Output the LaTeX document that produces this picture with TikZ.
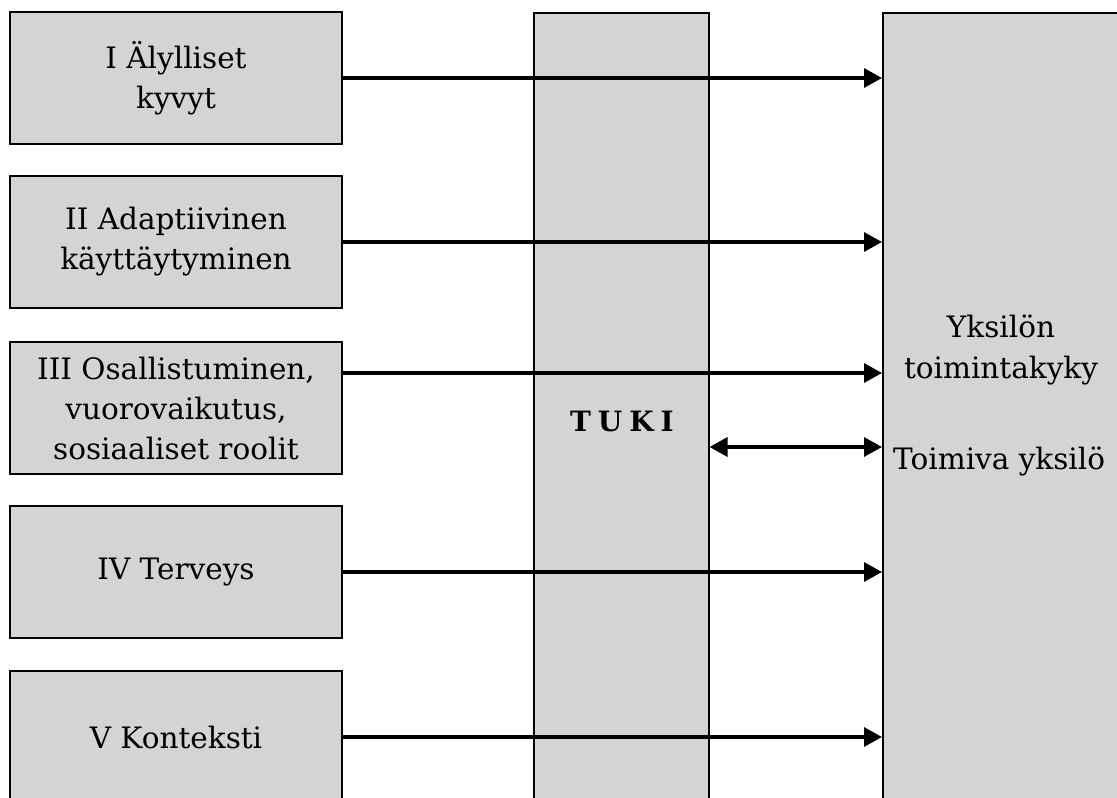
\documentclass[tikz,border=0pt]{standalone}
\usepackage{fontspec}
\setmainfont{DejaVu Serif}
\usetikzlibrary{arrows.meta}
\definecolor{boxgray}{HTML}{D4D4D4}
\tikzset{
  x=1pt, y=-1pt,
  panel/.style={draw=black, line width=1.5pt, fill=boxgray, inner sep=0pt},
  leftbox/.style={panel, minimum width=332pt, minimum height=132pt,
    align=center, font=\fontsize{29.5}{40}\selectfont},
  label/.style={align=center, inner sep=0pt, font=\fontsize{29.5}{41}\selectfont},
  arr/.style={line width=3.3pt, -{Triangle[length=18pt,width=19pt]}},
  dblarr/.style={line width=3.3pt, {Triangle[length=18pt,width=19pt]}-{Triangle[length=18pt,width=19pt]}}
}
\begin{document}
\begin{tikzpicture}
  \useasboundingbox (0,0) rectangle (1117,798);
  \clip (0,0) rectangle (1117,798);

  % the two tall columns
  \node[panel, anchor=north west, minimum width=175pt, minimum height=820pt] (tuki) at (533,12) {};
  \node[panel, anchor=north west, minimum width=260pt, minimum height=820pt] (yks) at (882,12) {};
  \node[label, font=\fontsize{28}{41}\selectfont\bfseries] (tukitext) at (622,421) {T\hspace{0.25em}U\hspace{0.25em}K\hspace{0.25em}I};

  % the five dimensions
  \node[leftbox] (d1) at (176,78)  {I Älylliset\\kyvyt};
  \node[leftbox] (d2) at (176,242) {II Adaptiivinen\\käyttäytyminen};
  \node[leftbox] (d3) at (176,408) {III Osallistuminen,\\vuorovaikutus,\\sosiaaliset roolit};
  \node[leftbox] (d4) at (176,572) {IV Terveys};
  \node[leftbox] (d5) at (176,737) {V Konteksti};

  % texts inside the right column
  \node[label] (kyky) at (1001,350) {Yksilön\\toimintakyky};
  \node[label, anchor=west] (toimiva) at (893,461) {Toimiva yksilö};

  % arrows into the individual
  \draw[arr] (d1.east) -- (d1.east -| yks.west);
  \draw[arr] (d2.east) -- (d2.east -| yks.west);
  \draw[arr] ([yshift=35pt]d3.east) -- ([yshift=35pt]d3.east -| yks.west);
  \draw[arr] (d4.east) -- (d4.east -| yks.west);
  \draw[arr] (d5.east) -- (d5.east -| yks.west);

  % support <-> functioning individual
  \coordinate (tk) at (tuki.east |- 0,447);
  \draw[dblarr] (tk) -- (tk -| yks.west);
\end{tikzpicture}
\end{document}
